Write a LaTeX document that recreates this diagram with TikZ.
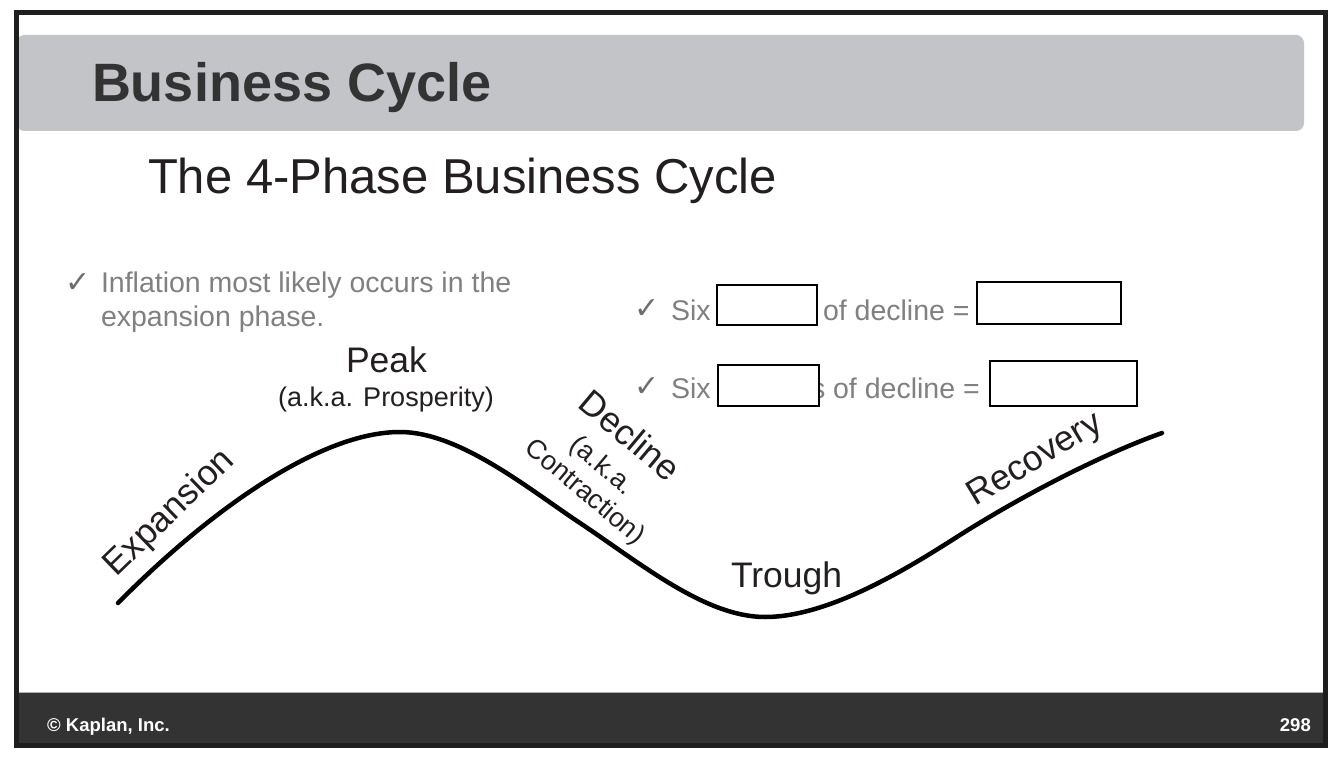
\documentclass[tikz,border=0pt]{standalone}
\usepackage{fontspec}
\setmainfont{Liberation Sans}
\newfontfamily\symfont{DejaVu Sans}
\definecolor{framecol}{RGB}{30,30,30}
\definecolor{barcol}{RGB}{195,196,200}
\definecolor{titlecol}{RGB}{51,51,51}
\definecolor{ink}{RGB}{35,31,32}
\definecolor{bullet}{RGB}{128,128,128}
\definecolor{footcol}{RGB}{51,51,51}
\tikzset{
  txt/.style={inner sep=0pt, outer sep=0pt, text=ink},
  graytxt/.style={inner sep=0pt, outer sep=0pt, text=bullet, font=\fontsize{28.5}{33}\selectfont},
  checkmark/.style={inner sep=0pt, outer sep=0pt, text=bullet!85!black, font=\symfont\fontsize{30}{30}\selectfont},
  blank/.style={draw=black, line width=1.2pt, fill=white},
  phase/.style={txt, font=\fontsize{35.5}{36}\selectfont},
  aka/.style={txt, font=\fontsize{27}{27}\selectfont},
  foot/.style={inner sep=0pt, text=white, font=\bfseries\fontsize{18.5}{18.5}\selectfont}
}
\begin{document}
\begin{tikzpicture}[x=1pt,y=-1pt]
\useasboundingbox (0,0) rectangle (1334,762);
\fill[white] (0,0) rectangle (1334,762);
% title bar
\fill[barcol, rounded corners=8pt] (16.5,35) rectangle (1304,131);
\node[txt, text=titlecol, anchor=base west, font=\bfseries\fontsize{54}{54}\selectfont] (title) at (92,102) {Business Cycle};
\node[txt, text=ink, anchor=base west, font=\fontsize{49}{49}\selectfont] (subtitle) at (148,194) {The 4-Phase Business Cycle};
% left bullet
\node[checkmark, anchor=base west] (chk1) at (65,292) {✓};
\node[graytxt, anchor=base west] (infl1) at (101,293) {Inflation most likely occurs in the};
\node[graytxt, anchor=base west] (infl2) at (101,326) {expansion phase.};
% right bullets
\node[checkmark, anchor=base west] (chk2) at (634,318) {✓};
\node[graytxt, anchor=base west] (six1) at (671,320) {Six};
\node[graytxt, anchor=base west] (dec1) at (823,320) {of decline =};
\draw[blank] (717,285) rectangle (817,325);
\draw[blank] (977,282) rectangle (1121,324);
\node[checkmark, anchor=base west] (chk3) at (634,396) {✓};
\node[graytxt, anchor=base west] (six2) at (671,398) {Six};
\node[graytxt, anchor=base west] (dec2) at (811,398) {s of decline =};
\draw[blank] (718,365) rectangle (819,406);
\draw[blank] (990,361) rectangle (1137,406);
% curve
\draw[line width=4.5pt, line cap=round, line join=round]
  (118,603) .. controls (210,510) and (320,432) .. (400,432)
  .. controls (460,432) and (530,490) .. (580,523)
  .. controls (640,563) and (705,617) .. (765,617)
  .. controls (830,617) and (910,567) .. (960,535)
  .. controls (1020,497) and (1100,455) .. (1162,433);
% labels
\node[phase, anchor=base] (peak) at (386.5,372) {Peak};
\node[aka, anchor=base] (peakaka) at (386,406) {(a.k.a. Prosperity)};
\node[phase, anchor=base west] (trough) at (731,587) {Trough};
\node[phase, anchor=base, rotate=44] (expansion) at (176,520) {Expansion};
\node[phase, anchor=base, rotate=31] (recovery) at (1040,468) {Recovery};
\node[phase, anchor=base, rotate=-40] (decline) at (622,445) {Decline};
\node[aka, anchor=base, rotate=-40] (declaka) at (597,472) {(a.k.a.};
\node[aka, anchor=base, rotate=-40] (contraction) at (580,498) {Contraction)};
% footer
\fill[footcol] (17,692) rectangle (1324,744);
\draw[gray!60, line width=0.8pt] (17,692) -- (1324,692);
\node[foot, anchor=base west] (copy) at (47,731) {© Kaplan, Inc.};
\node[foot, anchor=base east] (page) at (1311,731) {298};
% frame
\draw[framecol, line width=5pt] (16.5,12.5) rectangle (1325.5,745.5);
\end{tikzpicture}
\end{document}
